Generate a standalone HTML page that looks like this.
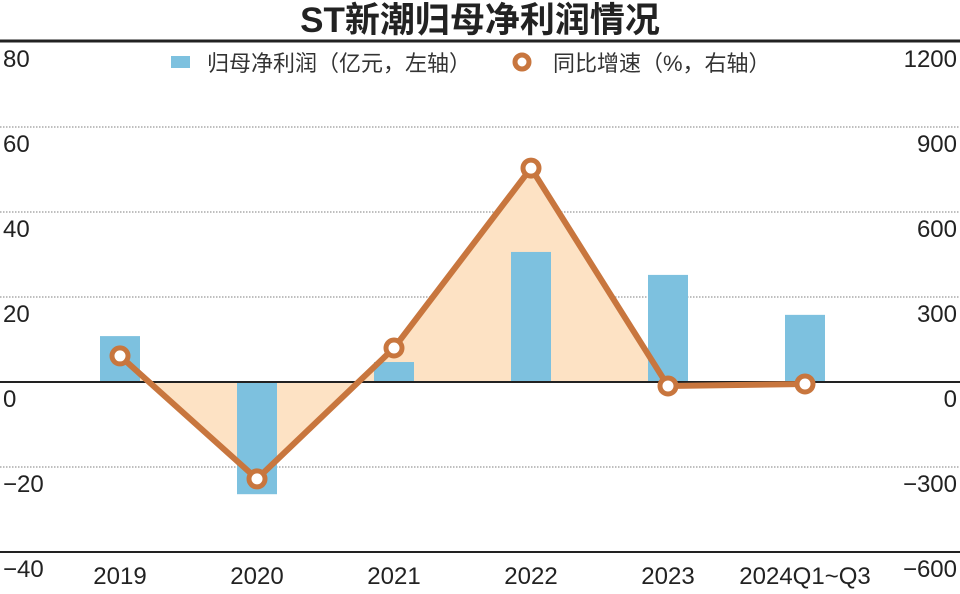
<!DOCTYPE html>
<html><head><meta charset="utf-8"><style>
body{margin:0;background:#fff;}
svg text{font-family:"Liberation Sans","Noto Sans CJK SC",sans-serif;}
</style></head><body>
<svg width="960" height="589" viewBox="0 0 960 589">
<text x="480" y="32" text-anchor="middle" font-size="35" font-weight="bold" fill="#222">ST新潮归母净利润情况</text>
<line x1="0" y1="41" x2="960" y2="41" stroke="#222" stroke-width="3"/>
<g id="grid"></g>
<g id="area"></g>
<g id="bars"></g>
<line x1="0" y1="382" x2="960" y2="382" stroke="#222" stroke-width="2"/>
<line x1="0" y1="552" x2="960" y2="552" stroke="#222" stroke-width="2"/>
<g id="line"></g>
<g id="labels"></g>
<g>
<rect x="171" y="56" width="19" height="12" fill="#7dc1df"/>
<text x="207" y="71" font-size="22" fill="#333">归母净利润（亿元，左轴）</text>
<circle cx="522" cy="62" r="7" fill="#fff" stroke="#c8763e" stroke-width="5"/>
<text x="553" y="71" font-size="22" fill="#333">同比增速（%，右轴）</text>
</g>
</svg>
<script>
const categories=["2019","2020","2021","2022","2023","2024Q1~Q3"];
const profit=[10.8,-26.4,4.7,30.6,25.2,15.8];
const growth=[92,-342,120,755,-14,-7];
const leftTicks=[80,60,40,20,0,-20,-40];
const rightTicks=["1200","900","600","300","0","\u2212300","\u2212600"];
const leftTickLabels=["80","60","40","20","0","\u221220","\u221240"];
const NS="http://www.w3.org/2000/svg";
const yL=v=>382-v*(340/80);
const yR=v=>382-v*(340/1200);
const xC=i=>120+i*137;
function mk(t,a,p){const e=document.createElementNS(NS,t);for(const k in a)e.setAttribute(k,a[k]);document.getElementById(p).appendChild(e);return e;}
leftTicks.forEach((v,i)=>{
 const y=yL(v);
 if(v!==0&&v!==-40&&v!==80){const g=mk("line",{x1:0,x2:960,y1:y,y2:y,stroke:"#aaa","stroke-width":1.5,"stroke-dasharray":"1.5,1.5"},"grid");
 
 }
 const t=mk("text",{x:3,y:y+25,"font-size":24,fill:"#222"},"labels");t.textContent=leftTickLabels[i];
 
 
 const r=mk("text",{x:957,y:y+25,"font-size":24,fill:"#222","text-anchor":"end"},"labels");r.textContent=rightTicks[i];
 
 
});
categories.forEach((c,i)=>{
 const t=mk("text",{x:xC(i),y:584,"font-size":24,fill:"#222","text-anchor":"middle"},"labels");t.textContent=c;
 
 
 const v=profit[i];const y0=yL(0),y1=yL(v);
 const b=mk("rect",{x:xC(i)-20,width:40,y:Math.min(y0,y1),height:Math.abs(y1-y0),fill:"#7dc1df"},"bars");
 
 
});
let pts=growth.map((v,i)=>[xC(i),yR(v)]);
let ad="M"+pts[0][0]+","+yR(0)+" "+pts.map(p=>"L"+p[0]+","+p[1]).join(" ")+" L"+pts[pts.length-1][0]+","+yR(0)+"Z";
const a=mk("path",{d:ad,fill:"#fde2c4",stroke:"none"},"area");


const l=mk("polyline",{points:pts.map(p=>p.join(",")).join(" "),fill:"none",stroke:"#c8763e","stroke-width":6,"stroke-linejoin":"round"},"line");


pts.forEach((p,i)=>{
 const c=mk("circle",{cx:p[0],cy:p[1],r:8,fill:"#fff",stroke:"#c8763e","stroke-width":5},"line");
 
 
});
</script>
</body></html>
